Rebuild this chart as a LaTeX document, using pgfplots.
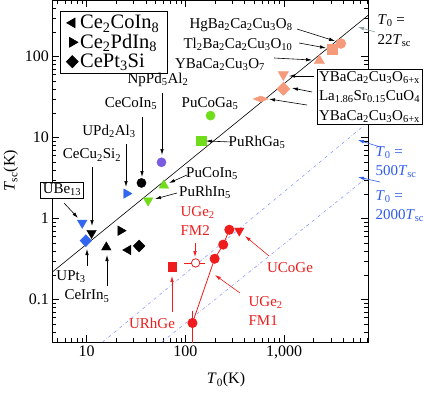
\documentclass[border=0pt]{standalone}
\usepackage{fontspec}
\setmainfont{Liberation Serif}
\usepackage{pgfplots}
\pgfplotsset{compat=1.18}
\usetikzlibrary{arrows.meta,calc}

\definecolor{ptblue}{HTML}{3366EE}
\definecolor{ptpurple}{HTML}{7B5CE0}
\definecolor{ptgreen}{HTML}{6FDD1A}
\definecolor{ptsalmon}{HTML}{F59B7C}
\definecolor{ptred}{HTML}{EE1C1C}
\definecolor{lineblue}{HTML}{8C9CFF}
\definecolor{txtblue}{HTML}{2F5BEE}
\definecolor{arrgray}{HTML}{8FA0A0}

\newcommand{\Tz}{\textit{T}\textsubscript{0}}
\newcommand{\Tsc}{\textit{T}\textsubscript{sc}}
\newcommand{\fs}{\fontsize{15}{19.5}\selectfont}
\newcommand{\fl}{\fontsize{16}{19}\selectfont}
\newcommand{\fg}{\fontsize{20.5}{22}\selectfont}

\begin{document}
\begin{tikzpicture}
\begin{axis}[
  scale only axis,
  width=315.5pt, height=342pt,
  xmode=log, ymode=log,
  xmin=4.5, xmax=7100, ymin=0.03, ymax=500,
  log ticks with fixed point,
  /pgf/number format/assume math mode=true,
  tick label style={font=\fl},
  label style={font=\fl},
  xlabel={\Tz(K)}, ylabel={\Tsc(K)},
  x label style={at={(axis description cs:0.55,0)}, anchor=north, yshift=-27pt},
  major tick length=7pt, minor tick length=4pt,
  tick style={black, line width=0.6pt},
  axis line style={line width=0.8pt},
  clip mode=individual,
  legend style={at={(0.024,0.968)}, anchor=north west, font=\fg,
    draw=black, line width=0.8pt, inner xsep=6pt, inner ysep=2pt, row sep=0pt,
    /tikz/every even column/.append style={column sep=7pt}},
  legend cell align=left,
]
% guide lines
\addplot[black, line width=0.6pt, forget plot] coordinates {(4.5,0.22) (7100,322.7)};
\addplot[lineblue, dash dot, line width=0.6pt, forget plot] coordinates {(14.5,0.03) (7100,15.5)};
\addplot[lineblue, dash dot, line width=0.6pt, forget plot] coordinates {(58,0.03) (7100,3.3)};

% legend series
\addplot[only marks, black, mark=triangle*, mark size=5.5pt, mark options={rotate=90}] coordinates {(26.3,0.41)};
\addlegendentry{Ce\textsubscript{2}CoIn\textsubscript{8}}
\addplot[only marks, black, mark=triangle*, mark size=5.5pt, mark options={rotate=-90}] coordinates {(22.1,0.71)};
\addlegendentry{Ce\textsubscript{2}PdIn\textsubscript{8}}
\addplot[only marks, black, mark=diamond*, mark size=6pt, mark options={xscale=1.3}] coordinates {(34,0.46)};
\addlegendentry{CePt\textsubscript{3}Si}

% other black
\addplot[only marks, black, mark=triangle*, mark size=5.5pt, mark options={rotate=180}, forget plot] coordinates {(11.2,0.665)};
\addplot[only marks, black, mark=triangle*, mark size=5.5pt, forget plot] coordinates {(15.8,0.443)};
\addplot[only marks, black, mark=*, mark size=4.6pt, forget plot] coordinates {(35.9,2.76)};

% blue
\addplot[only marks, ptblue, mark=triangle*, mark size=5.5pt, mark options={rotate=180}, forget plot] coordinates {(9.0,0.885)};
\addplot[only marks, ptblue, mark=diamond*, mark size=6pt, mark options={xscale=1.3}, forget plot] coordinates {(9.8,0.535)};
\addplot[only marks, ptblue, mark=triangle*, mark size=5.5pt, mark options={rotate=-90}, forget plot] coordinates {(25.3,2.04)};

% purple
\addplot[only marks, ptpurple, mark=*, mark size=4.6pt, forget plot] coordinates {(57.3,4.96)};

% green
\addplot[only marks, ptgreen, mark=*, mark size=4.6pt, forget plot] coordinates {(180,18.7)};
\addplot[only marks, ptgreen, mark=square*, mark size=4.6pt, forget plot] coordinates {(145,9.1)};
\addplot[only marks, ptgreen, mark=triangle*, mark size=5.5pt, forget plot] coordinates {(60.5,2.58)};
\addplot[only marks, ptgreen, mark=triangle*, mark size=5.5pt, mark options={rotate=180}, forget plot] coordinates {(41.9,1.67)};

% cuprates
\addplot[only marks, ptsalmon, mark=*, mark size=5pt, forget plot] coordinates {(3770,145)};
\addplot[only marks, ptsalmon, mark=square*, mark size=5pt, forget plot] coordinates {(3070,124)};
\addplot[only marks, ptsalmon, mark=triangle*, mark size=6pt, forget plot] coordinates {(2280,89)};
\addplot[only marks, ptsalmon, mark=triangle*, mark size=6pt, mark options={rotate=180}, forget plot] coordinates {(984,60)};
\addplot[only marks, ptsalmon, mark=diamond*, mark size=6.5pt, mark options={xscale=1.35}, forget plot] coordinates {(985,40)};
\addplot[only marks, ptsalmon, mark=diamond*, mark size=5pt, mark options={xscale=2.0,yscale=0.6}, forget plot] coordinates {(580,30)};

% red
\addplot[ptred, line width=0.8pt, mark=*, mark size=4.6pt, forget plot] coordinates {(118,0.0515) (198,0.32) (242,0.478) (279,0.73)};
\addplot[ptred, line width=0.8pt, forget plot] coordinates {(118,0.073) (118,0.028)};
\addplot[ptred, line width=0.8pt, forget plot] coordinates {(96.6,0.284) (158,0.284)};
\addplot[only marks, ptred, mark=*, mark size=4.2pt, mark options={fill=white, line width=0.8pt}, forget plot] coordinates {(127,0.284)};
\addplot[only marks, ptred, mark=square*, mark size=4.2pt, forget plot] coordinates {(74,0.254)};
\addplot[only marks, ptred, mark=triangle*, mark size=5.5pt, mark options={rotate=180}, forget plot] coordinates {(352,0.71)};
\end{axis}

\begin{scope}[shift={($(current axis.north west)+(-52.5pt,0pt)$)}, x=1pt, y=-1pt,
  font=\fs, >={Latex[length=6pt,width=3.5pt]}, line width=0.6pt]
% black labels
\node at (158,80) {NpPd\textsubscript{5}Al\textsubscript{2}};
\draw[->] (162,93) -- (162,155);
\node at (131,104) {CeCoIn\textsubscript{5}};
\draw[->] (142,117) -- (142,177);
\node at (109,131) {UPd\textsubscript{2}Al\textsubscript{3}};
\draw[->] (126,144) -- (126,187);
\node at (92,155) {CeCu\textsubscript{2}Si\textsubscript{2}};
\draw[->] (92,167) -- (92,226);
\node[draw, fill=white, line width=0.8pt, inner sep=2pt] at (62,190) {UBe\textsubscript{13}};
\draw[->] (64,203) -- (78,218);
\node at (71,277) {UPt\textsubscript{3}};
\draw[->] (87,266) -- (87,249);
\node at (87,296) {CeIrIn\textsubscript{5}};
\draw[->] (107,286) -- (107,255);
\node at (210,104) {PuCoGa\textsubscript{5}};
\node at (257,142) {PuRhGa\textsubscript{5}};
\draw[->] (232,142) -- (206,141);
\node at (212,174) {PuCoIn\textsubscript{5}};
\draw[->] (187,175) -- (169,183);
\node at (205,192) {PuRhIn\textsubscript{5}};
\draw[->] (177,193) -- (155,199);
\node at (241,25) {HgBa\textsubscript{2}Ca\textsubscript{2}Cu\textsubscript{3}O\textsubscript{8}};
\draw[->] (297,29) -- (335,41);
\node at (238,44) {Tl\textsubscript{2}Ba\textsubscript{2}Ca\textsubscript{2}Cu\textsubscript{3}O\textsubscript{10}};
\draw[->] (299,43) -- (326,48);
\node at (220,65) {YBaCa\textsubscript{2}Cu\textsubscript{3}O\textsubscript{7}};
\draw[->] (274,58) -- (312,60);
\node[draw, fill=white, line width=0.8pt, align=center, inner sep=2pt] at (369.5,97)
  {YBaCa\textsubscript{2}Cu\textsubscript{3}O\textsubscript{6+x}\\
   La\textsubscript{1.86}Sr\textsubscript{0.15}CuO\textsubscript{4}\\
   YBaCa\textsubscript{2}Cu\textsubscript{3}O\textsubscript{6+x}};
\draw[->] (314,76) -- (289,76);
\draw[->] (312,92) -- (292,88);
\draw[->] (307,105) -- (269,99);
\node[anchor=west, align=left] at (374,30.5) {\Tz{} =\\22\Tsc};
\draw[->, arrgray] (375,32) -- (358,27);
% blue labels
\node[anchor=west, align=left, txtblue] at (372,162) {\Tz{} =\\500\Tsc};
\draw[->, txtblue] (380,147) -- (358,140);
\node[anchor=west, align=left, txtblue] at (372,206) {\Tz{} =\\2000\Tsc};
\draw[->, txtblue] (380,182) -- (358,177);
% red labels
\node[anchor=west, align=left, ptred] at (177,221) {UGe\textsubscript{2}\\FM2};
\draw[->, ptred] (195,243) -- (195,257);
\node[ptred] at (152,323) {URhGe};
\draw[->, ptred] (172,312) -- (172,276);
\node[anchor=west, align=left, ptred] at (245,311) {UGe\textsubscript{2}\\FM1};
\draw[->, ptred] (240,293) -- (215,275);
\node[ptred] at (290,268) {UCoGe};
\draw[->, ptred] (269,256) -- (245,236);
\pgfresetboundingbox
\path (0,0) rectangle (425,392);
\end{scope}
\end{tikzpicture}
\end{document}
